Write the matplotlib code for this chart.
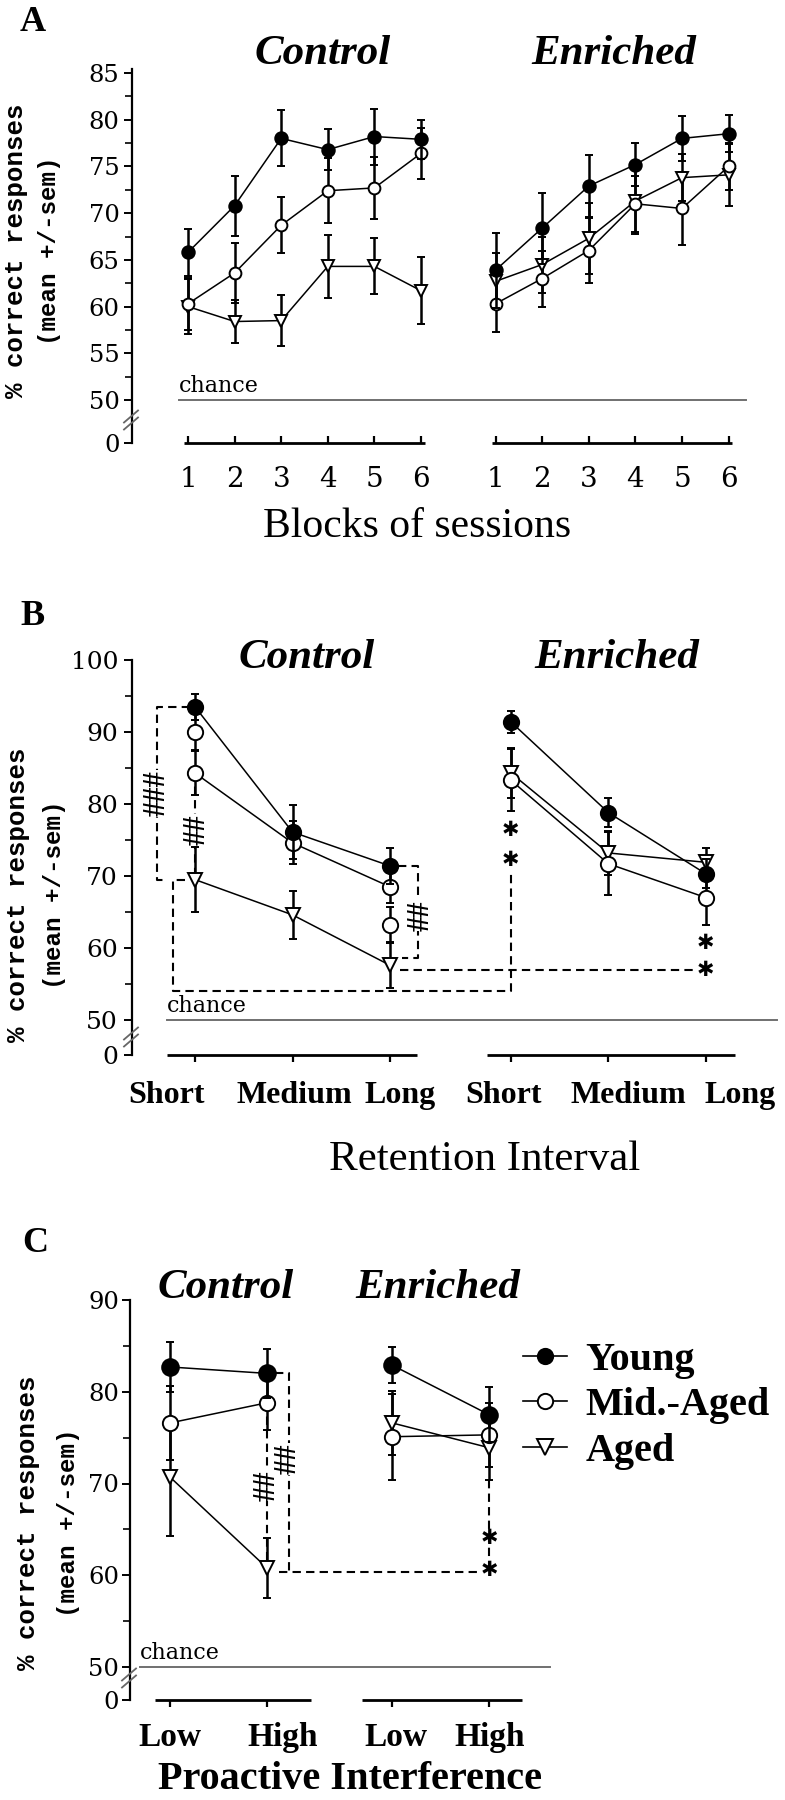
import matplotlib
matplotlib.use('Agg')
import matplotlib.pyplot as plt
import numpy as np
from matplotlib.lines import Line2D
from matplotlib.font_manager import FontProperties

# ---------------- data ----------------
A_blocks = ['1', '2', '3', '4', '5', '6']
A_ctrl_young = [65.8, 70.8, 78.0, 76.8, 78.2, 77.9]
A_ctrl_young_err = [2.5, 3.2, 3.0, 2.2, 3.0, 2.1]
A_ctrl_mid = [60.3, 63.6, 68.7, 72.4, 72.7, 76.4]
A_ctrl_mid_err = [2.8, 3.2, 3.0, 3.5, 3.3, 2.7]
A_ctrl_aged = [60.0, 58.4, 58.5, 64.3, 64.3, 61.7]
A_ctrl_aged_err = [2.9, 2.3, 2.7, 3.4, 3.0, 3.6]
A_enr_young = [63.9, 68.4, 72.9, 75.2, 78.0, 78.5]
A_enr_young_err = [4.0, 3.8, 3.3, 2.3, 2.4, 2.0]
A_enr_mid = [60.3, 63.0, 66.0, 71.0, 70.5, 75.0]
A_enr_mid_err = [3.0, 3.0, 3.5, 3.0, 3.9, 2.5]
A_enr_aged = [62.7, 64.5, 67.3, 71.3, 73.8, 74.1]
A_enr_aged_err = [3.0, 3.0, 3.8, 3.5, 2.5, 3.3]

B_intervals = ['Short', 'Medium', 'Long']
B_ctrl_young = [93.5, 76.1, 71.4]
B_ctrl_young_err = [1.8, 3.8, 2.5]
B_ctrl_mid = [84.3, 74.6, 68.5]
B_ctrl_mid_err = [3.0, 3.0, 2.2]
B_ctrl_aged = [69.5, 64.6, 57.6]
B_ctrl_aged_err = [4.5, 3.3, 3.2]
B_ctrl_extra = [90.0, np.nan, 63.2]
B_ctrl_extra_err = [2.5, np.nan, 2.5]
B_enr_young = [91.4, 78.8, 70.3]
B_enr_young_err = [1.5, 2.0, 2.0]
B_enr_mid = [83.3, 71.7, 67.0]
B_enr_mid_err = [4.3, 4.4, 3.8]
B_enr_aged = [84.3, 73.2, 71.9]
B_enr_aged_err = [3.5, 3.0, 2.0]

C_levels = ['Low', 'High']
C_ctrl_young = [82.7, 82.0]
C_ctrl_young_err = [2.7, 2.7]
C_ctrl_mid = [76.6, 78.8]
C_ctrl_mid_err = [4.0, 3.0]
C_ctrl_aged = [70.7, 60.8]
C_ctrl_aged_err = [6.4, 3.3]
C_enr_young = [82.9, 77.5]
C_enr_young_err = [2.0, 3.0]
C_enr_mid = [75.1, 75.3]
C_enr_mid_err = [4.7, 3.5]
C_enr_aged = [76.6, 73.9]
C_enr_aged_err = [3.5, 3.5]

group_names = ['Young', 'Mid.-Aged', 'Aged']
chance_level = 50

# ---------------- setup ----------------
W, H = 785, 1800
fig = plt.figure(figsize=(W / 100, H / 100), dpi=100)

SERIF = 'DejaVu Serif'
TIMES = 'Liberation Serif'
MONO = 'Liberation Mono'

STY = {
    'young': dict(marker='o', mfc='black', mec='black'),
    'mid': dict(marker='o', mfc='white', mec='black'),
    'aged': dict(marker='v', mfc='white', mec='black'),
}
DASH = (0, (4, 2.5))


def make_panel(box, xref, yref):
    l, r, t, b = box
    ax = fig.add_axes([l / W, 1 - b / H, (r - l) / W, (b - t) / H])
    (xa, pa), (xb, pb) = xref
    sx = (pb - pa) / (xb - xa)
    (ya, qa), (yb, qb) = yref
    sy = (qb - qa) / (yb - ya)
    ax.set_xlim(xa + (l - pa) / sx, xa + (r - pa) / sx)
    ax.set_ylim(ya + (b - qa) / sy, ya + (t - qa) / sy)
    fx = lambda p: xa + (p - pa) / sx
    fy = lambda q: ya + (q - qa) / sy
    return ax, fx, fy


def style_axis(ax, zero_v, top_v, major, minor, fs, pad):
    for s in ['top', 'right', 'bottom']:
        ax.spines[s].set_visible(False)
    ax.spines['left'].set_bounds(zero_v, top_v)
    ax.spines['left'].set_linewidth(1.6)
    ax.set_yticks([zero_v] + list(major))
    ax.set_yticklabels(['0'] + [f'{int(v)}' for v in major], family=SERIF, fontsize=fs)
    ax.set_yticks(minor, minor=True)
    ax.tick_params(axis='y', which='major', direction='out', length=6, width=1.4, pad=pad)
    ax.tick_params(axis='y', which='minor', direction='out', length=5, width=1.2)
    ax.set_xticks([])
    ax.patch.set_alpha(0)


def axis_break(ax, fx, fy, xpx, ypx):
    for d in (-3.5, 3.5):
        ax.plot([fx(xpx - 7), fx(xpx + 7)], [fy(ypx + d + 6), fy(ypx + d - 6)],
                color='#666666', lw=1.3, clip_on=False, zorder=5)


def series(ax, xs, ys, es, kind, ms, connect=True):
    ax.errorbar(xs, ys, yerr=es, linestyle='-' if connect else 'none', color='black',
                lw=1.1, elinewidth=1.8, capsize=3, capthick=1.6, ms=ms, mew=1.4,
                zorder=4 if kind == 'young' else 3, clip_on=False, **STY[kind])


def segment(ax, x0, x1, xs, zero_v, up):
    ax.plot([x0, x1], [zero_v, zero_v], color='black', lw=2.0, clip_on=False,
            solid_capstyle='butt')
    ax.plot(xs, [zero_v] * len(xs), linestyle='none', marker=2 if up else 3,
            ms=5, mew=1.6, color='black', clip_on=False)


def xlabel(ax, pos, zero_v, text, dx, dy, **kw):
    ax.annotate(text, (pos, zero_v), xytext=(dx, -dy), textcoords='offset pixels',
                ha='center', va='top', annotation_clip=False, **kw)


def ftext(x, y, s, **kw):
    fig.text(x / W, 1 - y / H, s, **kw)


def chance(ax, x0, x1, fs=16):
    ax.plot([x0, x1], [chance_level, chance_level], color='#707070', lw=1.4, clip_on=False)
    ax.annotate('chance', (x0, chance_level), xytext=(0, 3), textcoords='offset pixels',
                ha='left', va='bottom', family=SERIF, fontsize=fs, annotation_clip=False)


def hashes(ax, x, y, s, fs=22):
    ax.text(x, y, s, rotation=90, ha='center', va='center', family=TIMES,
            weight='bold', fontsize=fs, zorder=6,
            bbox=dict(facecolor='white', edgecolor='none', pad=0.5))


def stars(ax, x, ys, fs=15):
    for y in ys:
        ax.text(x, y, '\u2731', ha='center', va='center', family='DejaVu Sans',
                fontsize=fs, zorder=6)


def dashed(ax, xs, ys):
    ax.plot(xs, ys, color='black', lw=1.5, linestyle=DASH, clip_on=False, zorder=2)


def ylab(x1, x2, yc):
    ftext(x1, yc, '% correct responses', family=MONO, weight='bold', fontsize=18.5,
          rotation=90, ha='center', va='center')
    ftext(x2, yc, '(mean +/-sem)', family=MONO, weight='bold', fontsize=17.5,
          rotation=90, ha='center', va='center')


def titles(xc, xe, y):
    ftext(xc, y, 'Control', family=TIMES, weight='bold', style='italic', fontsize=31,
          ha='center', va='center')
    ftext(xe, y, 'Enriched', family=TIMES, weight='bold', style='italic', fontsize=31,
          ha='center', va='center')


# ---------------- Panel A ----------------
axA, fxA, fyA = make_panel((132, 780, 60, 460), ((0, 188), (5, 421)), ((85, 73), (50, 400)))
zA = fyA(443)
style_axis(axA, zA, 85.4, np.arange(50, 86, 5), np.arange(52.5, 85, 5), 17.5, 3)
axis_break(axA, fxA, fyA, 131, 420)
xcA = np.arange(len(A_blocks))
xeA = xcA + 6.6
series(axA, xcA, A_ctrl_aged, A_ctrl_aged_err, 'aged', 8.5)
series(axA, xcA, A_ctrl_mid, A_ctrl_mid_err, 'mid', 8.5)
series(axA, xcA, A_ctrl_young, A_ctrl_young_err, 'young', 9)
series(axA, xeA, A_enr_aged, A_enr_aged_err, 'aged', 8.5)
series(axA, xeA, A_enr_mid, A_enr_mid_err, 'mid', 8.5)
series(axA, xeA, A_enr_young, A_enr_young_err, 'young', 9)
chance(axA, xcA[0] - 0.19, xeA[-1] + 0.37)
for xs in (xcA, xeA):
    segment(axA, xs[0] - 0.08, xs[-1] + 0.08, xs, zA, True)
    for p, lab in zip(xs, A_blocks):
        xlabel(axA, p, zA, lab, 0, 23, family=SERIF, fontsize=20)
ftext(20, 31, 'A', family=TIMES, weight='bold', fontsize=26, ha='left', va='baseline')
titles(323, 614, 54)
ftext(417, 537, 'Blocks of sessions', family=TIMES, fontsize=30, ha='center', va='baseline')
ylab(16, 50, 251)

# ---------------- Panel B ----------------
axB, fxB, fyB = make_panel((132, 780, 650, 1070), ((0, 195), (2, 390)), ((100, 660), (50, 1020)))
zB = fyB(1055)
style_axis(axB, zB, 100, np.arange(50, 101, 10), np.arange(55, 100, 5), 18, 4)
axis_break(axB, fxB, fyB, 131, 1037)
xcB = np.arange(len(B_intervals))
xeB = xcB + 3.24
series(axB, xcB, B_ctrl_aged, B_ctrl_aged_err, 'aged', 10)
series(axB, xcB, B_ctrl_mid, B_ctrl_mid_err, 'mid', 11)
series(axB, xcB, B_ctrl_extra, B_ctrl_extra_err, 'mid', 11, connect=False)
series(axB, xcB, B_ctrl_young, B_ctrl_young_err, 'young', 11)
series(axB, xeB, B_enr_aged, B_enr_aged_err, 'aged', 10)
series(axB, xeB, B_enr_mid, B_enr_mid_err, 'mid', 11)
series(axB, xeB, B_enr_young, B_enr_young_err, 'young', 11)
chance(axB, xcB[0] - 0.29, xeB[-1] + 0.73)
segment(axB, xcB[0] - 0.29, xcB[-1] + 0.28, xcB, zB, False)
segment(axB, xeB[0] - 0.25, xeB[-1] + 0.3, xeB, zB, False)
for xs, offs in ((xcB, (-29, 2, 10)), (xeB, (-7, 20, 34))):
    for p, lab, o in zip(xs, B_intervals, offs):
        xlabel(axB, p, zB, lab, o, 26, family=TIMES, weight='bold', fontsize=23)
# significance annotations
xb1 = xcB[0] - 0.39
dashed(axB, [xcB[0] - 0.05, xb1, xb1, xb1 + 0.1], [B_ctrl_young[0], B_ctrl_young[0], B_ctrl_aged[0], B_ctrl_aged[0]])
hashes(axB, xb1, (B_ctrl_young[0] + B_ctrl_aged[0]) / 2, '###')
dashed(axB, [xcB[0], xcB[0]], [B_ctrl_mid[0], B_ctrl_aged[0]])
hashes(axB, xcB[0] + 0.02, (B_ctrl_mid[0] + B_ctrl_aged[0]) / 2 - 0.5, '##')
y_low = 54.0
xb2 = xcB[0] - 0.23
st_short = [B_enr_mid[0] - B_enr_mid_err[0] - 2.6, B_enr_mid[0] - B_enr_mid_err[0] - 6.8]
dashed(axB, [xcB[0] - 0.1, xb2, xb2, xeB[0], xeB[0]], [B_ctrl_aged[0], B_ctrl_aged[0], y_low, y_low, st_short[1] - 1.5])
stars(axB, xeB[0], st_short)
xb3 = xcB[2] + 0.29
yb3 = B_ctrl_aged[2] + 1.0
dashed(axB, [xcB[2] + 0.08, xb3, xb3, xcB[2] + 0.12], [B_ctrl_young[2], B_ctrl_young[2], yb3, yb3])
hashes(axB, xb3 + 0.03, (B_ctrl_young[2] + yb3) / 2 - 0.5, '##')
yh = B_ctrl_aged[2] - 0.7
dashed(axB, [xcB[2] + 0.1, xeB[2] - 0.1], [yh, yh])
stars(axB, xeB[2], [yh + 3.8, yh])
ftext(20, 625, 'B', family=TIMES, weight='bold', fontsize=26, ha='left', va='baseline')
titles(307, 617, 658)
ftext(485, 1170, 'Retention Interval', family=TIMES, fontsize=31, ha='center', va='baseline')
ylab(18, 54, 895)

# ---------------- Panel C ----------------
axC, fxC, fyC = make_panel((130, 560, 1290, 1712), ((0, 170), (1, 267)), ((90, 1300), (50, 1667)))
zC = fyC(1700)
style_axis(axC, zC, 90, np.arange(50, 91, 10), np.arange(55, 90, 5), 17.5, 2)
axis_break(axC, fxC, fyC, 129, 1678)
xcC = np.arange(len(C_levels))
xeC = xcC + 2.29
series(axC, xcC, C_ctrl_aged, C_ctrl_aged_err, 'aged', 10)
series(axC, xcC, C_ctrl_mid, C_ctrl_mid_err, 'mid', 11)
series(axC, xcC, C_ctrl_young, C_ctrl_young_err, 'young', 12)
series(axC, xeC, C_enr_aged, C_enr_aged_err, 'aged', 10)
series(axC, xeC, C_enr_mid, C_enr_mid_err, 'mid', 11)
series(axC, xeC, C_enr_young, C_enr_young_err, 'young', 12)
chance(axC, xcC[0] - 0.31, xeC[-1] + 0.63)
segment(axC, xcC[0] - 0.155, xcC[-1] + 0.45, xcC, zC, False)
segment(axC, xeC[0] - 0.31, xeC[-1] + 0.34, xeC, zC, False)
for xs, offs in ((xcC, (0, 16)), (xeC, (4, 0))):
    for p, lab, o in zip(xs, C_levels, offs):
        xlabel(axC, p, zC, lab, o, 22, family=TIMES, weight='bold', fontsize=24)
dashed(axC, [xcC[1], xcC[1]], [C_ctrl_mid[1], C_ctrl_aged[1]])
hashes(axC, xcC[1], (C_ctrl_mid[1] + C_ctrl_aged[1]) / 2, '##')
xc2 = xcC[1] + 0.23
yc2 = C_ctrl_aged[1] - 0.5
dashed(axC, [xcC[1] + 0.08, xc2, xc2], [C_ctrl_young[1], C_ctrl_young[1], yc2])
dashed(axC, [xcC[1] + 0.12, xeC[1] - 0.08], [yc2, yc2])
hashes(axC, xc2 - 0.01, (C_ctrl_young[1] + yc2) / 2 + 1.5, '##')
dashed(axC, [xeC[1], xeC[1]], [C_enr_aged[1] - C_enr_aged_err[1], yc2])
stars(axC, xeC[1], [yc2 + 3.8, yc2 + 0.3])
ftext(22, 1252, 'C', family=TIMES, weight='bold', fontsize=26, ha='left', va='baseline')
titles(226, 438, 1288)
ftext(350, 1798, 'Proactive Interference', family=TIMES, weight='bold', fontsize=29, ha='center', va='bottom')
ylab(28, 68, 1523)

# legend
handles = [Line2D([], [], color='black', lw=1.2, ms=11, mew=1.4, **STY[k]) for k in ('young', 'mid', 'aged')]
fig.legend(handles, group_names, loc='upper left', bbox_to_anchor=(523 / W, 1 - 1342 / H),
           frameon=False, prop=FontProperties(family=TIMES, weight='bold', size=29),
           handlelength=1.1, handletextpad=0.45, labelspacing=0.2, borderpad=0, borderaxespad=0)

fig.savefig('out.png', dpi=100)
